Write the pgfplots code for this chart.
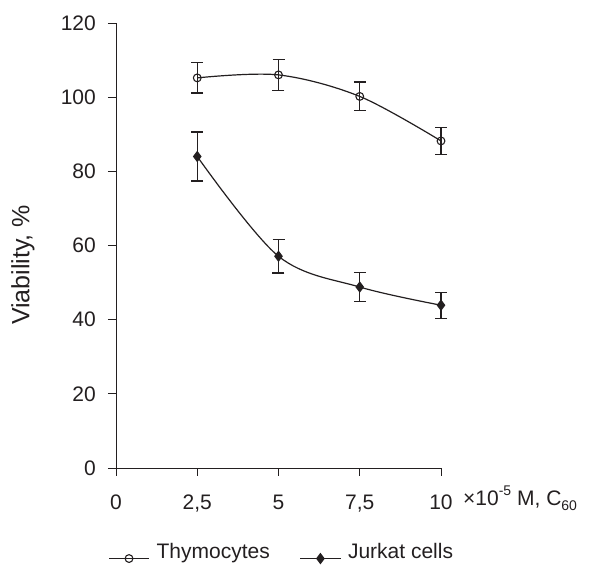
\documentclass[border=0pt]{standalone}
\usepackage{pgfplots}
\usepackage{fontspec}
\setmainfont{Liberation Sans}
\pgfplotsset{compat=1.18}

\definecolor{ink}{HTML}{231F20}

\begin{document}
\fontsize{21}{25}\selectfont
\begin{tikzpicture}
  \begin{axis}[
      scale only axis, width=325pt, height=445pt,
      at={(0,0)}, anchor=south west,
      xmin=0, xmax=10, ymin=0, ymax=120,
      axis x line*=bottom, axis y line*=left,
      axis line style={ink, line width=0.9pt},
      tick align=outside, major tick length=8pt,
      tick style={ink, line width=0.9pt},
      xtick={0,2.5,5,7.5,10}, xticklabels={0,{2,5},5,{7,5},10},
      ytick={0,20,...,120},
      /pgf/number format/assume math mode=true,
      ticklabel style={font=\fontsize{21}{25}\selectfont, text=ink},
      xticklabel style={yshift=-12pt},
      yticklabel style={xshift=-5pt},
      legend columns=2,
      legend style={at={(0.51,-0.19)}, anchor=center, draw=none, fill=none,
        font=\fontsize{21}{25}\selectfont, text=ink,
        /tikz/every odd column/.append style={column sep=5pt},
        /tikz/every even column/.append style={column sep=28pt}},
      legend image code/.code={
        \draw[#1, mark repeat=2, mark phase=2, yshift=-6pt] plot coordinates {(0pt,0pt) (20pt,0pt) (40pt,0pt)};},
      clip=false,
    ]
    \addplot[ink, line width=1.2pt, smooth, tension=0.55,
      mark=o, mark size=3.9pt, mark options={fill=white, solid, line width=1.1pt},
      error bars/.cd, y dir=both, y explicit,
      error bar style={line width=1.2pt, ink},
      error mark options={rotate=90, mark size=6pt, line width=1.2pt, ink}]
      coordinates {
        (2.5,105.2) +- (0,4.1)
        (5,106.0) +- (0,4.1)
        (7.5,100.2) +- (0,3.9)
        (10,88.2) +- (0,3.6)
      };
    \addlegendentry{Thymocytes}
    \addplot[ink, line width=1.2pt, smooth, tension=0.55,
      mark=diamond*, mark size=4.8pt, mark options={fill=ink, solid},
      error bars/.cd, y dir=both, y explicit,
      error bar style={line width=1.2pt, ink},
      error mark options={rotate=90, mark size=6pt, line width=1.2pt, ink}]
      coordinates {
        (2.5,84.0) +- (0,6.6)
        (5,57.1) +- (0,4.5)
        (7.5,48.8) +- (0,4.0)
        (10,43.9) +- (0,3.5)
      };
    \addlegendentry{Jurkat cells}
  \end{axis}
  \node[rotate=90, text=ink, font=\fontsize{25}{30}\selectfont] at (-93pt,203pt) {Viability, \%};
  \node[anchor=base west, text=ink, inner sep=0pt] at (347pt,-37pt)
    {×10\raisebox{0.45em}{\fontsize{14}{16}\selectfont -5} M, C\raisebox{-0.25em}{\fontsize{14}{16}\selectfont 60}};
  \pgfresetboundingbox
  \path[use as bounding box] (-116pt,-97pt) rectangle (476pt,468pt);
\end{tikzpicture}
\end{document}
